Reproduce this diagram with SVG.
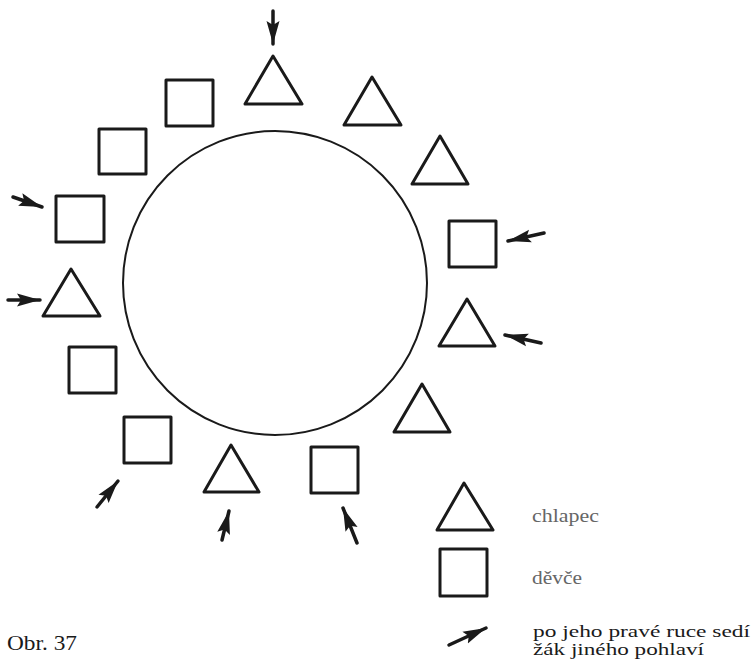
<svg xmlns="http://www.w3.org/2000/svg" width="754" height="665" viewBox="0 0 754 665">
<style>
.shape{fill:none;stroke:#1a1a1a;stroke-width:3;stroke-linejoin:round}
.ring{fill:none;stroke:#1a1a1a;stroke-width:2}
.arrow{stroke:#1a1a1a;stroke-width:3.5;stroke-linecap:round;fill:none}
text{font-family:'Liberation Serif','Times New Roman',Tinos,'Nimbus Roman',serif;fill:#1a1a1a}
.faint{fill:#666}
</style>
<defs>
<marker id="head" markerUnits="userSpaceOnUse" markerWidth="24" markerHeight="14" refX="23" refY="7" orient="auto" viewBox="0 0 24 14">
<path d="M0,0.5 L23,7 L0,13.5 L4,7 Z" fill="#1a1a1a"/>
</marker>
</defs>
<rect width="754" height="665" fill="#fff"/>
<g id="table"><circle class="ring" cx="275" cy="283" r="152"/></g>
<g id="t1"><polygon class="shape" points="273,56 302,104 245,104"/></g>
<g id="t2"><polygon class="shape" points="372,77 401,125 344,125"/></g>
<g id="t3"><polygon class="shape" points="440,136 468,184 412,184"/></g>
<g id="s4"><rect class="shape" x="449" y="221" width="47" height="46"/></g>
<g id="t4"><polygon class="shape" points="467,299 495,346 439,346"/></g>
<g id="t5"><polygon class="shape" points="422,384 450,432 394,432"/></g>
<g id="s7"><rect class="shape" x="311" y="447" width="47" height="46"/></g>
<g id="t6"><polygon class="shape" points="231,445 259,492 204,492"/></g>
<g id="s6"><rect class="shape" x="124" y="417" width="47" height="46"/></g>
<g id="s5"><rect class="shape" x="69" y="347" width="47" height="46"/></g>
<g id="t7"><polygon class="shape" points="71,269 100,316 43,316"/></g>
<g id="s3"><rect class="shape" x="56" y="196" width="48" height="46"/></g>
<g id="s2"><rect class="shape" x="99" y="129" width="47" height="45"/></g>
<g id="s1"><rect class="shape" x="166" y="80" width="47" height="46"/></g>
<g id="connectors">
<line class="arrow" x1="273" y1="11" x2="273" y2="44" marker-end="url(#head)"/>
<line class="arrow" x1="13" y1="197" x2="42" y2="207" marker-end="url(#head)"/>
<line class="arrow" x1="8" y1="300" x2="40" y2="300" marker-end="url(#head)"/>
<line class="arrow" x1="544" y1="233" x2="508" y2="241" marker-end="url(#head)"/>
<line class="arrow" x1="541" y1="343" x2="505" y2="335" marker-end="url(#head)"/>
<line class="arrow" x1="97" y1="507" x2="118" y2="481" marker-end="url(#head)"/>
<line class="arrow" x1="222" y1="540" x2="229" y2="511" marker-end="url(#head)"/>
<line class="arrow" x1="357" y1="543" x2="343" y2="508" marker-end="url(#head)"/>
<line class="arrow" x1="449" y1="645" x2="486" y2="628" marker-end="url(#head)"/>
</g>
<g id="legend">
<polygon class="shape" points="464,483 493,530 437,530"/>
<rect class="shape" x="440" y="549" width="47" height="47"/>
<text class="faint" x="532" y="522" font-size="18" textLength="67" lengthAdjust="spacingAndGlyphs">chlapec</text>
<text class="faint" x="532" y="584" font-size="18" textLength="50" lengthAdjust="spacingAndGlyphs">děvče</text>
<text x="533" y="637" font-size="16" textLength="217" lengthAdjust="spacingAndGlyphs">po jeho pravé ruce sedí</text>
<text x="533" y="655" font-size="16" textLength="171" lengthAdjust="spacingAndGlyphs">žák jiného pohlaví</text>
</g>
<text x="7" y="650" font-size="22" textLength="70" lengthAdjust="spacingAndGlyphs">Obr. 37</text>
</svg>
